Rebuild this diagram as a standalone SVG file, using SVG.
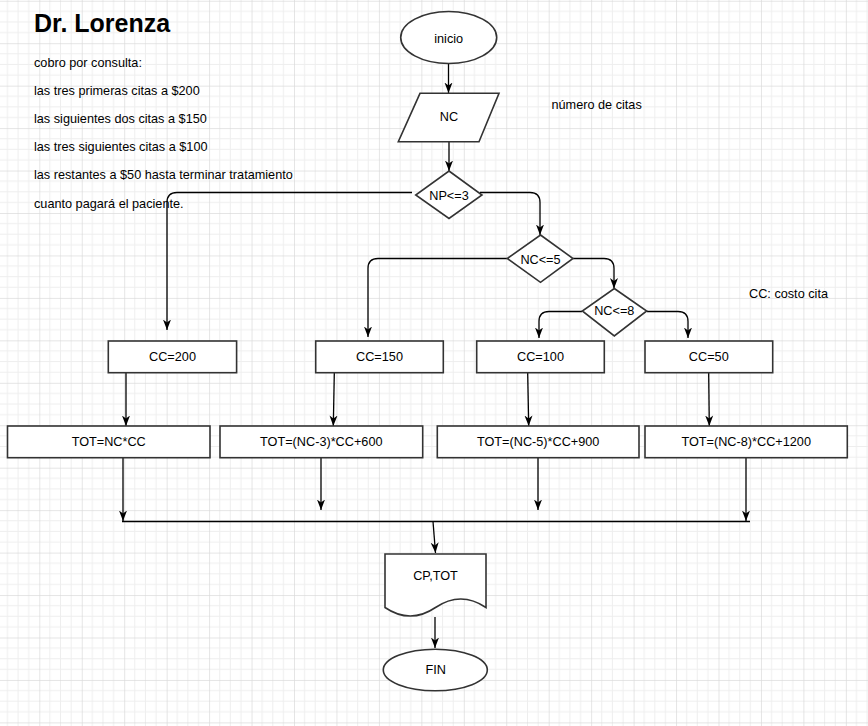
<svg xmlns="http://www.w3.org/2000/svg" width="868" height="726" viewBox="0 0 868 726">
<defs>
<pattern id="grid" x="-3.15" y="0.75" width="42.45" height="42.45" patternUnits="userSpaceOnUse">
<rect x="10.11" y="0" width="1" height="42.45" fill="#eeeeee"/>
<rect x="20.72" y="0" width="1" height="42.45" fill="#eeeeee"/>
<rect x="31.34" y="0" width="1" height="42.45" fill="#eeeeee"/>
<rect x="0" y="10.11" width="42.45" height="1" fill="#eeeeee"/>
<rect x="0" y="20.72" width="42.45" height="1" fill="#eeeeee"/>
<rect x="0" y="31.34" width="42.45" height="1" fill="#eeeeee"/>
<rect x="-0.5" y="0" width="1.2" height="42.45" fill="#dadada"/>
<rect x="0" y="-0.5" width="42.45" height="1.2" fill="#dadada"/>
</pattern>
<marker id="arr" markerUnits="userSpaceOnUse" markerWidth="11" markerHeight="10" viewBox="0 0 11 10" refX="10.5" refY="5" orient="auto">
<path d="M0,1 L10.5,5 L0,9 L3,5 Z" fill="#000"/>
</marker>
<style>
.shape{fill:#fff;stroke:#333;stroke-width:1.6}
.conn{fill:none;stroke:#000;stroke-width:1.3}
.arrow{marker-end:url(#arr)}
.lbl{font-family:"Liberation Sans",Arial,sans-serif;font-size:12.7px;fill:#000}
.c{text-anchor:middle}
.title{font-family:"Liberation Sans",Arial,sans-serif;font-size:25px;font-weight:bold;fill:#000}
</style>
</defs>
<rect width="868" height="726" fill="#fff"/>
<rect width="868" height="726" fill="url(#grid)"/>

<g id="notes">
<text class="title" x="34" y="31.5">Dr. Lorenza</text>
<text class="lbl" x="34" y="66.5">cobro por consulta:</text>
<text class="lbl" x="34" y="94.7">las tres primeras citas a $200</text>
<text class="lbl" x="34" y="122.9">las siguientes dos citas a $150</text>
<text class="lbl" x="34" y="151.1">las tres siguientes citas a $100</text>
<text class="lbl" x="34" y="179.3">las restantes a $50 hasta terminar tratamiento</text>
<text class="lbl" x="34" y="207.5">cuanto pagará el paciente.</text>
<text class="lbl" x="551.5" y="109">número de citas</text>
<text class="lbl" x="749" y="297.5">CC: costo cita</text>
</g>

<g id="connectors">
<path class="conn arrow" d="M448.5,64 V93"/>
<path class="conn arrow" d="M449,142 V171"/>
<path class="conn arrow" d="M412,192.5 H177 Q167,192.5 167,202.5 V330"/>
<path class="conn arrow" d="M480,192.5 H530 Q540,192.5 540,202.5 V235"/>
<path class="conn arrow" d="M507,258.5 H378 Q368,258.5 368,268.5 V337"/>
<path class="conn arrow" d="M573,258.5 H604 Q614,258.5 614,268.5 V288.5"/>
<path class="conn arrow" d="M582,311.5 H549 Q539,311.5 539,321.5 V338"/>
<path class="conn arrow" d="M647,311.5 H678 Q688,311.5 688,321.5 V338"/>
<path class="conn arrow" d="M126,373 V426"/>
<path class="conn arrow" d="M334.3,373 L333.3,426"/>
<path class="conn arrow" d="M527.7,373 L528.7,426"/>
<path class="conn arrow" d="M708.7,373 L709.3,426"/>
<path class="conn arrow" d="M123,458 V521"/>
<path class="conn arrow" d="M321,458 V510"/>
<path class="conn arrow" d="M538,458 V510"/>
<path class="conn arrow" d="M746,458 V521"/>
<path class="conn" d="M122,521.5 H750"/>
<path class="conn arrow" d="M433,521.5 L435.5,553"/>
<path class="conn arrow" d="M435,617 V648"/>
</g>

<g id="inicio">
<ellipse class="shape" cx="448.7" cy="37.5" rx="48" ry="26"/>
<text class="lbl c" x="448.7" y="43">inicio</text>
</g>
<g id="nc">
<polygon class="shape" points="420,93.3 499,93.3 479,141.7 398.3,141.7"/>
<text class="lbl c" x="449" y="121.2">NC</text>
</g>
<g id="np3">
<polygon class="shape" points="449,171 482,195 449,218.5 415.7,195"/>
<text class="lbl c" x="449" y="199.5">NP&lt;=3</text>
</g>
<g id="nc5">
<polygon class="shape" points="540.5,235 573,258.5 540.5,282.3 507.3,258.5"/>
<text class="lbl c" x="540.5" y="263.8">NC&lt;=5</text>
</g>
<g id="nc8">
<polygon class="shape" points="614.3,288.5 646.7,311 614.3,336 582.3,311"/>
<text class="lbl c" x="614.3" y="315.3">NC&lt;=8</text>
</g>
<g id="cc200">
<rect class="shape" x="108.3" y="341" width="128.3" height="31.7"/>
<text class="lbl c" x="172.5" y="361.2">CC=200</text>
</g>
<g id="cc150">
<rect class="shape" x="315.7" y="341" width="127.6" height="31.7"/>
<text class="lbl c" x="379.5" y="361.2">CC=150</text>
</g>
<g id="cc100">
<rect class="shape" x="476.7" y="341" width="127.6" height="31.7"/>
<text class="lbl c" x="540.5" y="361.2">CC=100</text>
</g>
<g id="cc50">
<rect class="shape" x="645" y="341" width="127.7" height="31.7"/>
<text class="lbl c" x="708.8" y="361.2">CC=50</text>
</g>
<g id="tot1">
<rect class="shape" x="7.5" y="426" width="202.5" height="31.7"/>
<text class="lbl c" x="108.7" y="445.5">TOT=NC*CC</text>
</g>
<g id="tot2">
<rect class="shape" x="220" y="426" width="202.7" height="31.7"/>
<text class="lbl c" x="321.3" y="445.5">TOT=(NC-3)*CC+600</text>
</g>
<g id="tot3">
<rect class="shape" x="437.3" y="426" width="201.7" height="31.7"/>
<text class="lbl c" x="538.2" y="445.5">TOT=(NC-5)*CC+900</text>
</g>
<g id="tot4">
<rect class="shape" x="645" y="426" width="202.3" height="31.7"/>
<text class="lbl c" x="746.2" y="445.5">TOT=(NC-8)*CC+1200</text>
</g>
<g id="output">
<path class="shape" d="M385,554 H486 V607.5 Q460.75,590.5 435.5,607.5 Q410.25,624.6 385,607.5 Z"/>
<text class="lbl c" x="435.5" y="579.5">CP,TOT</text>
</g>
<g id="fin">
<ellipse class="shape" cx="435.3" cy="670" rx="52" ry="20.7"/>
<text class="lbl c" x="435.8" y="673.8">FIN</text>
</g>
</svg>
